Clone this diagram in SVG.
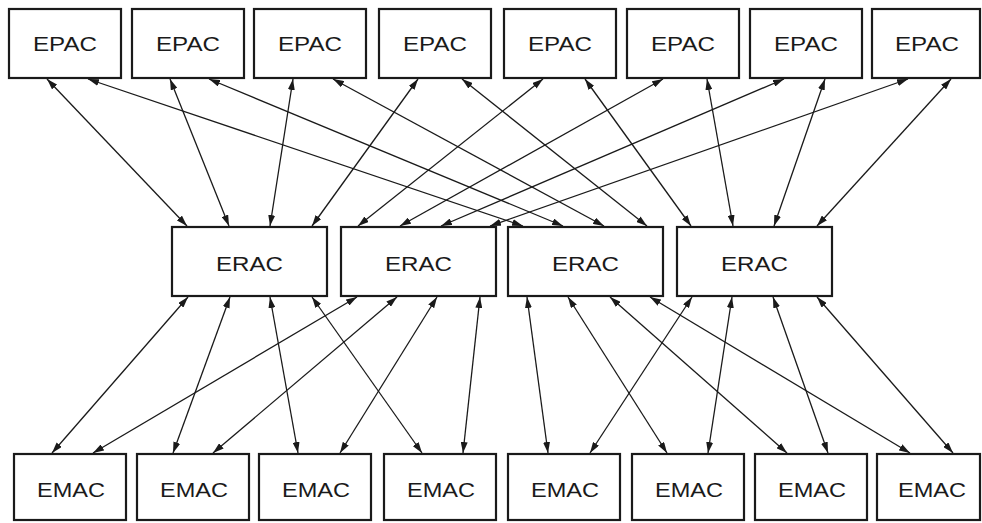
<svg xmlns="http://www.w3.org/2000/svg" width="982" height="523" viewBox="0 0 982 523">
<style>
.box{fill:#fff;stroke:#1a1a1a;stroke-width:2.2}
.lbl{font-family:"Liberation Sans",Arial,sans-serif;font-size:20px;fill:#1a1a1a;text-anchor:middle}
.c line{stroke:#1a1a1a;stroke-width:1.3;marker-start:url(#ah);marker-end:url(#ah)}
</style>
<defs>
<marker id="ah" viewBox="0 0 11 7" refX="11" refY="3.5" markerWidth="11" markerHeight="7" markerUnits="userSpaceOnUse" orient="auto-start-reverse">
<path d="M0,0 L11,3.5 L0,7 z" fill="#1a1a1a"/>
</marker>
</defs>
<rect width="982" height="523" fill="#fff"/>
<g id="connectors" class="c">
<line x1="47" y1="79" x2="187" y2="226"/>
<line x1="170" y1="79" x2="229" y2="226"/>
<line x1="293" y1="79" x2="270" y2="226"/>
<line x1="418" y1="79" x2="312" y2="226"/>
<line x1="88" y1="79" x2="523" y2="226"/>
<line x1="209" y1="79" x2="563" y2="226"/>
<line x1="333" y1="79" x2="604" y2="226"/>
<line x1="462" y1="79" x2="647" y2="226"/>
<line x1="543" y1="79" x2="358" y2="226"/>
<line x1="663" y1="79" x2="400" y2="226"/>
<line x1="784" y1="79" x2="441" y2="226"/>
<line x1="908" y1="79" x2="490" y2="226"/>
<line x1="585" y1="79" x2="691" y2="226"/>
<line x1="707" y1="79" x2="733" y2="226"/>
<line x1="825" y1="79" x2="774" y2="226"/>
<line x1="951" y1="79" x2="817" y2="226"/>
<line x1="188" y1="297" x2="52" y2="453"/>
<line x1="230" y1="297" x2="173" y2="453"/>
<line x1="270" y1="297" x2="298" y2="453"/>
<line x1="312" y1="297" x2="422" y2="453"/>
<line x1="357" y1="297" x2="93" y2="453"/>
<line x1="397" y1="297" x2="213" y2="453"/>
<line x1="437" y1="297" x2="340" y2="453"/>
<line x1="480" y1="297" x2="463" y2="453"/>
<line x1="527" y1="297" x2="548" y2="453"/>
<line x1="568" y1="297" x2="667" y2="453"/>
<line x1="610" y1="297" x2="787" y2="453"/>
<line x1="650" y1="297" x2="910" y2="453"/>
<line x1="692" y1="297" x2="590" y2="453"/>
<line x1="732" y1="297" x2="708" y2="453"/>
<line x1="773" y1="297" x2="828" y2="453"/>
<line x1="817" y1="297" x2="953" y2="453"/>
</g>
<g id="epac1"><rect class="box" x="9" y="9" width="112" height="69"/><text class="lbl" x="65" y="51" textLength="64" lengthAdjust="spacingAndGlyphs">EPAC</text></g>
<g id="epac2"><rect class="box" x="132" y="9" width="112" height="69"/><text class="lbl" x="188" y="51" textLength="64" lengthAdjust="spacingAndGlyphs">EPAC</text></g>
<g id="epac3"><rect class="box" x="254" y="9" width="112" height="69"/><text class="lbl" x="310" y="51" textLength="64" lengthAdjust="spacingAndGlyphs">EPAC</text></g>
<g id="epac4"><rect class="box" x="379" y="9" width="112" height="69"/><text class="lbl" x="435" y="51" textLength="64" lengthAdjust="spacingAndGlyphs">EPAC</text></g>
<g id="epac5"><rect class="box" x="504" y="9" width="112" height="69"/><text class="lbl" x="560" y="51" textLength="64" lengthAdjust="spacingAndGlyphs">EPAC</text></g>
<g id="epac6"><rect class="box" x="627" y="9" width="112" height="69"/><text class="lbl" x="683" y="51" textLength="64" lengthAdjust="spacingAndGlyphs">EPAC</text></g>
<g id="epac7"><rect class="box" x="750" y="9" width="112" height="69"/><text class="lbl" x="806" y="51" textLength="64" lengthAdjust="spacingAndGlyphs">EPAC</text></g>
<g id="epac8"><rect class="box" x="872" y="9" width="108" height="69"/><text class="lbl" x="927" y="51" textLength="64" lengthAdjust="spacingAndGlyphs">EPAC</text></g>
<g id="erac1"><rect class="box" x="172" y="227" width="155" height="69"/><text class="lbl" x="249.5" y="271" textLength="67" lengthAdjust="spacingAndGlyphs">ERAC</text></g>
<g id="erac2"><rect class="box" x="341" y="227" width="155" height="69"/><text class="lbl" x="418.5" y="271" textLength="67" lengthAdjust="spacingAndGlyphs">ERAC</text></g>
<g id="erac3"><rect class="box" x="508" y="227" width="155" height="69"/><text class="lbl" x="585.5" y="271" textLength="67" lengthAdjust="spacingAndGlyphs">ERAC</text></g>
<g id="erac4"><rect class="box" x="677" y="227" width="155" height="69"/><text class="lbl" x="754.5" y="271" textLength="67" lengthAdjust="spacingAndGlyphs">ERAC</text></g>
<g id="emac1"><rect class="box" x="14" y="454" width="112" height="66"/><text class="lbl" x="71" y="497" textLength="68" lengthAdjust="spacingAndGlyphs">EMAC</text></g>
<g id="emac2"><rect class="box" x="137" y="454" width="112" height="66"/><text class="lbl" x="194" y="497" textLength="68" lengthAdjust="spacingAndGlyphs">EMAC</text></g>
<g id="emac3"><rect class="box" x="259" y="454" width="112" height="66"/><text class="lbl" x="316" y="497" textLength="68" lengthAdjust="spacingAndGlyphs">EMAC</text></g>
<g id="emac4"><rect class="box" x="384" y="454" width="112" height="66"/><text class="lbl" x="441" y="497" textLength="68" lengthAdjust="spacingAndGlyphs">EMAC</text></g>
<g id="emac5"><rect class="box" x="508" y="454" width="112" height="66"/><text class="lbl" x="565" y="497" textLength="68" lengthAdjust="spacingAndGlyphs">EMAC</text></g>
<g id="emac6"><rect class="box" x="632" y="454" width="112" height="66"/><text class="lbl" x="689" y="497" textLength="68" lengthAdjust="spacingAndGlyphs">EMAC</text></g>
<g id="emac7"><rect class="box" x="755" y="454" width="112" height="66"/><text class="lbl" x="812" y="497" textLength="68" lengthAdjust="spacingAndGlyphs">EMAC</text></g>
<g id="emac8"><rect class="box" x="877" y="454" width="103" height="66"/><text class="lbl" x="932" y="497" textLength="68" lengthAdjust="spacingAndGlyphs">EMAC</text></g>
</svg>
